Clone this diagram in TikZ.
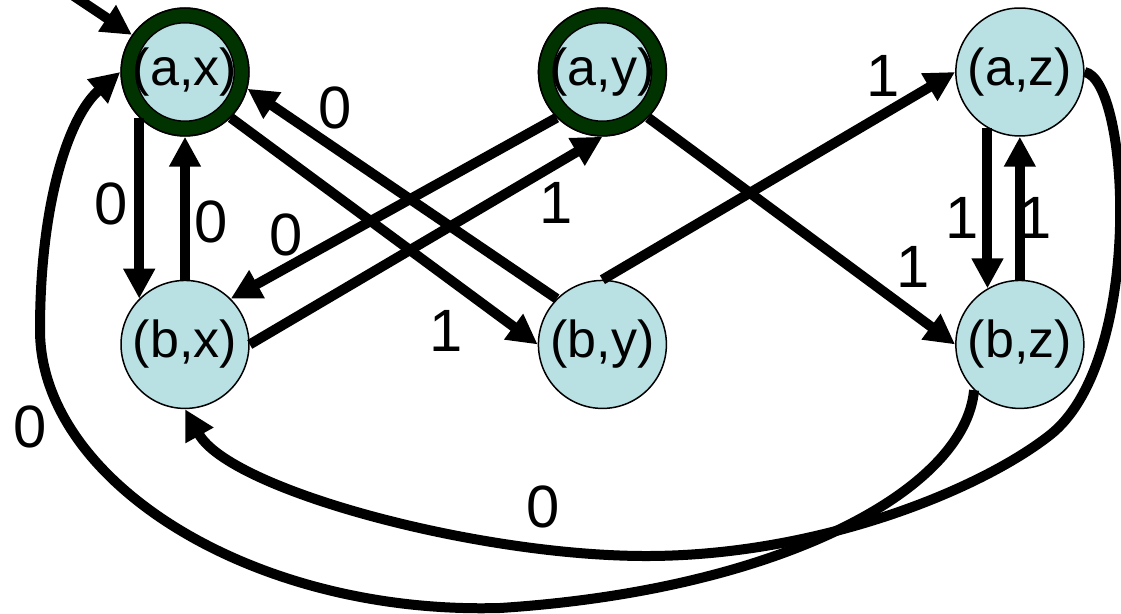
\documentclass[tikz,border=0pt]{standalone}
\usepackage{fontspec}
\setmainfont{Liberation Sans}
\usepackage{tikz}
\usetikzlibrary{arrows.meta,positioning}
\definecolor{statefill}{HTML}{B9E0E3}
\definecolor{finalring}{HTML}{003300}
\newcommand{\statefont}{\fontsize{29.6pt}{32pt}\selectfont}
\newcommand{\edgefont}{\fontsize{34pt}{36pt}\selectfont}
\tikzset{
  >={Triangle[length=0.6cm,width=0.6cm]},
  statenode/.style={circle,draw=black,line width=0.03cm,fill=statefill,
                    minimum size=2.56cm,inner sep=0pt,font=\statefont},
  finalstate/.style={draw=black,line width=0.03cm,double=finalring,
                     double distance=0.26cm},
  trans/.style={->,line width=0.2cm},
  edgelabel/.style={inner sep=0pt,font=\edgefont}
}

\begin{document}
\begin{tikzpicture}[x=0.02cm,y=-0.02cm,node distance=2.86cm and 5.76cm]
  \clip (0,0) rectangle (1121,614);
  \node[statenode] (ax) at (185,72) {(a,x)};
  \node[statenode,right=of ax] (ay) {(a,y)};
  \node[statenode,right=of ay] (az) {(a,z)};
  \node[statenode,below=of ax] (bx) {(b,x)};
  \node[statenode,below=of ay] (by) {(b,y)};
  \node[statenode,below=of az] (bz) {(b,z)};
  \foreach \s in {ax,ay}
    \draw[finalstate] (\s.center) circle[radius=1.13cm];

  \coordinate (start) at (20,-40);
  \draw[trans] (start) -- (ax.145);

  \draw[trans] (ax.-135) -- (bx.135) node[edgelabel] (l1) at (111,204) {0};
  \draw[trans] (bx) -- (ax) node[edgelabel] (l2) at (211,222) {0};
  \draw[trans] (ax.-45) -- (by.west) node[edgelabel] (l3) at (446,331) {1};
  \draw[trans] (by.135) -- (ax.-15) node[edgelabel] (l4) at (335,108) {0};
  \draw[trans] (ay.-135) -- (bx.45) node[edgelabel] (l5) at (286,235) {0};
  \draw[trans] (bx.east) -- (ay.south) node[edgelabel] (l6) at (556,203) {1};
  \draw[trans] (ay.-45) -- (bz.west) node[edgelabel] (l7) at (913,267) {1};
  \draw[trans] (by.north) -- (az.west) node[edgelabel] (l8) at (883,76) {1};
  \draw[trans] (az.-120) -- (bz.120) node[edgelabel] (l9) at (962,218) {1};
  \draw[trans] (bz) -- (az) node[edgelabel] (l10) at (1035,218) {1};

  % long way round
  \draw[trans] (bz.-135) .. controls (965,490) and (780,590) .. (500,608)
    .. controls (250,615) and (40,480) .. (40,330)
    .. controls (40,200) and (70,115) .. (ax.west)
    node[edgelabel] (l11) at (30,427) {0};
  \draw[trans] (az.east) .. controls (1130,80) and (1145,360) .. (1050,435)
    .. controls (980,490) and (820,555) .. (650,556)
    .. controls (480,557) and (230,490) .. (bx.south)
    node[edgelabel] (l12) at (543,507) {0};
\end{tikzpicture}
\end{document}
